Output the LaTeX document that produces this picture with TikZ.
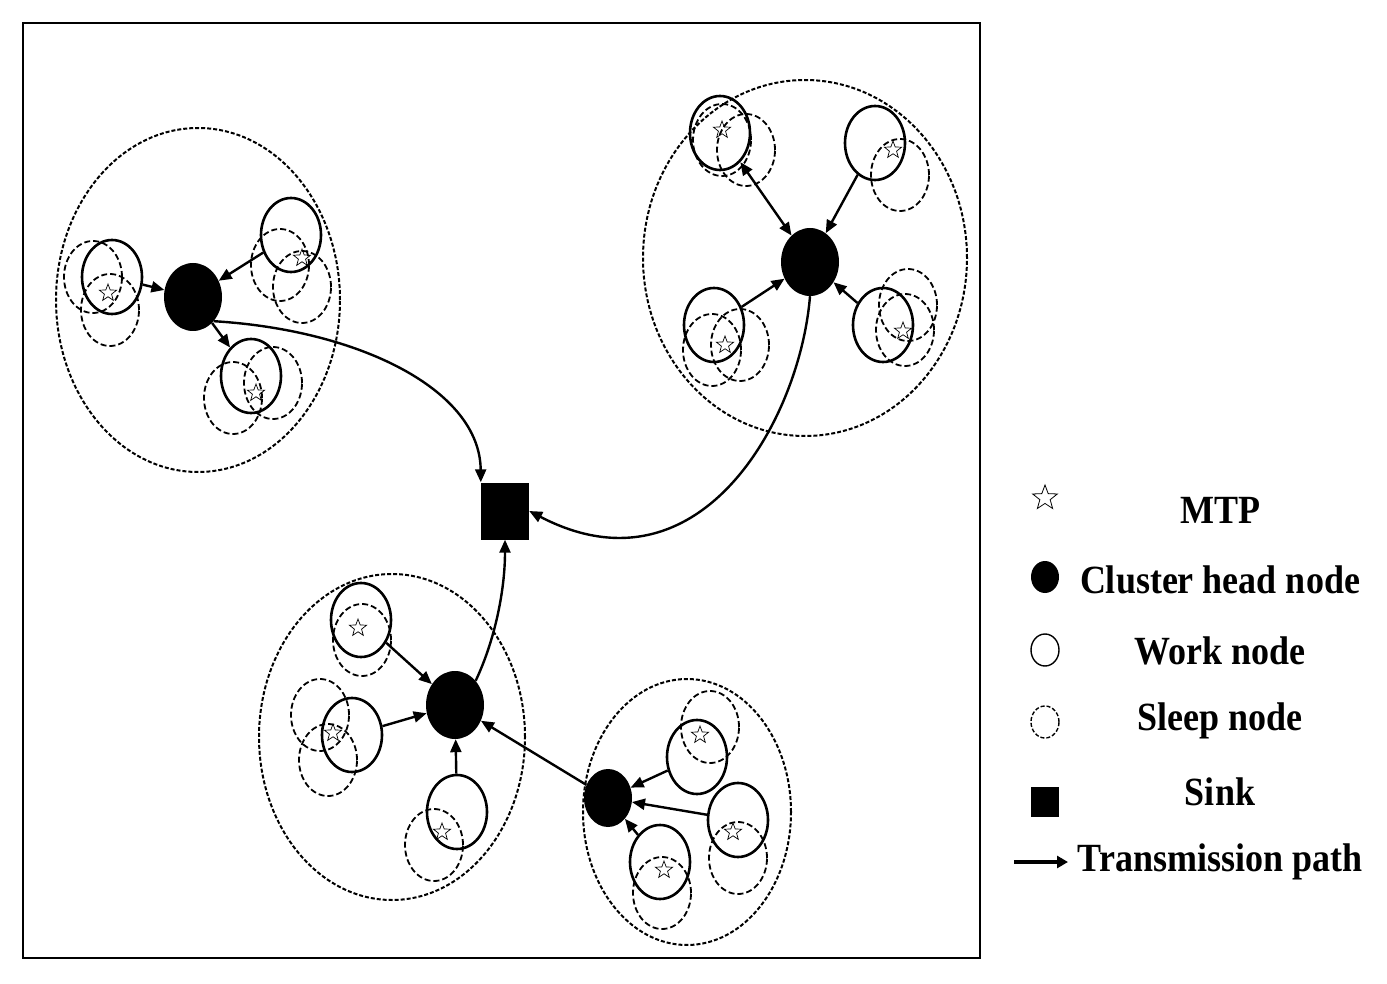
\documentclass[tikz,border=0pt]{standalone}
\usepackage{fontspec}
\setmainfont{Liberation Serif}
\newfontfamily\legfont{Liberation Serif}[FakeStretch=0.9]
\usetikzlibrary{shapes.geometric,arrows.meta}
\begin{document}
\begin{tikzpicture}[x=1pt,y=-1pt,
 work/.style={draw,ellipse,line width=2.6pt,minimum width=60pt,minimum height=74pt,inner sep=0},
 sleep/.style={draw,ellipse,line width=1.8pt,dash pattern=on 6pt off 3pt,minimum width=58pt,minimum height=72pt,inner sep=0},
 ch/.style={fill,ellipse,minimum width=58pt,minimum height=68pt,inner sep=0},
 big/.style={draw,ellipse,line width=2pt,dash pattern=on 4pt off 2pt,inner sep=0},
 mtp/.style={draw,star,star points=5,star point ratio=2.4,minimum size=18pt,inner sep=0,line width=0.7pt},
 arr/.style={line width=2.4pt,-{Triangle[length=13pt,width=11pt]}},
 lab/.style={font=\legfont\fontsize{40}{40}\bfseries\selectfont,anchor=center}]
\useasboundingbox (0,0) rectangle (1387,984);
\draw[line width=1.2pt] (23,23) rectangle (980,958);
% TL cluster
\node[big,minimum width=284pt,minimum height=344pt] (c1) at (198,300) {};
\node[sleep] (s11) at (93,277) {}; \node[sleep] (s12) at (110,310) {};
\node[sleep] (s13) at (280,265) {}; \node[sleep] (s14) at (302,287) {};
\node[sleep] (s15) at (233,398) {}; \node[sleep] (s16) at (273,383) {};
\node[work] (w11) at (112,277) {}; \node[work] (w12) at (291,235) {}; \node[work] (w13) at (251,376) {};
\node[mtp] at (108,293) {}; \node[mtp] at (302,258) {}; \node[mtp] at (256,393) {};
\node[ch] (h1) at (193,297) {};
\draw[arr] (w11) -- (h1); \draw[arr] (w12) -- (h1); \draw[arr] (h1) -- (w13);
% TR cluster
\node[big,minimum width=324pt,minimum height=356pt] (c2) at (805,258) {};
\node[sleep] (s21) at (722,140) {}; \node[sleep] (s22) at (746,150) {};
\node[sleep] (s23) at (900,175) {};
\node[sleep] (s24) at (712,350) {}; \node[sleep] (s25) at (740,345) {};
\node[sleep] (s26) at (908,305) {}; \node[sleep] (s27) at (905,330) {};
\node[work] (w21) at (720,133) {}; \node[work] (w22) at (875,143) {};
\node[work] (w23) at (714,325) {}; \node[work] (w24) at (883,325) {};
\node[mtp] at (722,130) {}; \node[mtp] at (893,150) {}; \node[mtp] at (725,345) {}; \node[mtp] at (903,331) {};
\node[ch] (h2) at (810,262) {};
\draw[arr,{Triangle[length=13pt,width=11pt]}-{Triangle[length=13pt,width=11pt]}] (w21) -- (h2);
\draw[arr] (w22) -- (h2); \draw[arr] (w23) -- (h2); \draw[arr] (w24) -- (h2);
% B cluster
\node[big,minimum width=266pt,minimum height=326pt] (c3) at (392,737) {};
\node[sleep] (s31) at (362,640) {};
\node[sleep] (s32) at (320,715) {}; \node[sleep] (s33) at (328,760) {};
\node[sleep] (s34) at (434,845) {};
\node[work] (w31) at (361,620) {}; \node[work] (w32) at (352,735) {}; \node[work] (w33) at (457,812) {};
\node[mtp] at (358,628) {}; \node[mtp] at (333,733) {}; \node[mtp] at (442,832) {};
\node[ch] (h3) at (455,705) {};
\draw[arr] (w31) -- (h3); \draw[arr] (w32) -- (h3); \draw[arr] (w33) -- (h3);
% BR cluster
\node[big,minimum width=208pt,minimum height=266pt] (c4) at (687,812) {};
\node[sleep] (s41) at (710,727) {}; \node[sleep] (s42) at (738,858) {}; \node[sleep] (s43) at (662,893) {};
\node[work] (w41) at (697,757) {}; \node[work] (w42) at (738,820) {}; \node[work] (w43) at (660,862) {};
\node[mtp] at (700,735) {}; \node[mtp] at (733,832) {}; \node[mtp] at (664,870) {};
\node[ch,minimum width=48pt,minimum height=58pt] (h4) at (608,798) {};
\draw[arr] (w41) -- (h4); \draw[arr] (w42) -- (h4); \draw[arr] (w43) -- (h4);
\draw[arr] (h4) -- (h3);
% sink
\node[fill,minimum width=48pt,minimum height=57pt,inner sep=0] (sink) at (505,511) {};
\draw[arr] (h1.south east) .. controls (360,330) and (480,390) .. (sink.north west);
\draw[arr] (h2.south) .. controls (800,420) and (700,600) .. (sink.east);
\draw[arr] (h3.north east) .. controls (495,640) and (505,590) .. (sink.south);
% legend
\node[mtp,minimum size=26pt,line width=0.8pt] (l1) at (1045,498) {};
\node[ch,minimum width=28pt,minimum height=32pt] (l2) at (1045,577) {};
\node[draw,ellipse,line width=1.4pt,minimum width=28pt,minimum height=32pt] (l3) at (1045,650) {};
\node[draw,ellipse,line width=1.4pt,dash pattern=on 4pt off 2pt,minimum width=28pt,minimum height=32pt] (l4) at (1045,722) {};
\node[fill,minimum width=28pt,minimum height=30pt,inner sep=0] (l5) at (1045,802) {};
\coordinate (a1) at (1014,862); \coordinate (a2) at (1068,862);
\draw[line width=3.5pt,-{Triangle[length=11pt,width=12pt]}] (a1) -- (a2);
\node[lab] (t1) at (1220,510) {MTP};
\node[lab] (t2) at (1220,580) {Cluster head node};
\node[lab] (t3) at (1220,651) {Work node};
\node[lab] (t4) at (1220,721) {Sleep node};
\node[lab] (t5) at (1220,792) {Sink};
\node[lab] (t6) at (1220,862) {Transmission path};
\end{tikzpicture}
\end{document}
